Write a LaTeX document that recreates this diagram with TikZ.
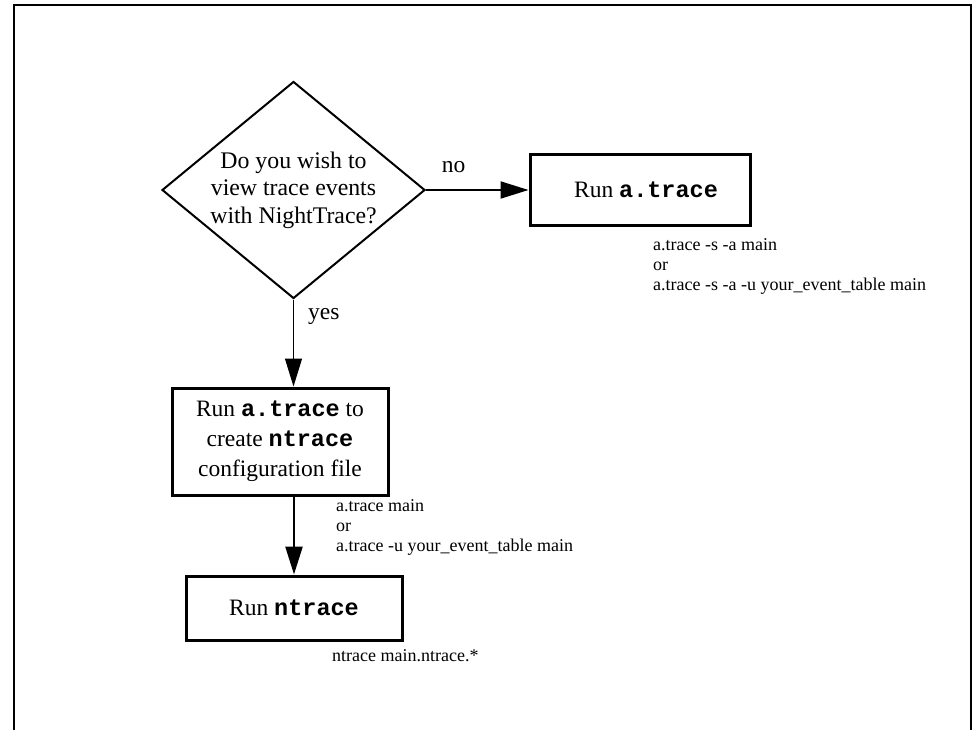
\documentclass[tikz,border=0pt]{standalone}
\usepackage{fontspec}
\setmainfont{Liberation Serif}
\setmonofont{Liberation Mono}
\usetikzlibrary{shapes.geometric,arrows.meta}

\newcommand{\cmdname}[1]{\texttt{\bfseries #1}}

\begin{document}
\begin{tikzpicture}[x=1pt,y=-1pt,
  decision/.style={diamond, draw, line width=2pt, minimum width=263pt, minimum height=217pt,
    aspect=1.25, inner sep=0pt, align=center, font=\fontsize{23.8}{27.5}\selectfont},
  runbox/.style={rectangle, draw, line width=3pt, minimum width=216pt, align=center,
    font=\fontsize{23.5}{30}\selectfont},
  flow/.style={-{Triangle[length=28pt,width=17pt]}, line width=2pt},
  usage/.style={anchor=north west, inner sep=0pt, align=left, font=\fontsize{18}{20}\selectfont},
  answer/.style={inner sep=0pt, font=\fontsize{23.5}{27}\selectfont}]

\useasboundingbox (0,0) rectangle (973,730);

% Draw the frame
\draw[line width=2pt] (14,730) -- (14,5) -- (971,5) -- (971,730);

% The question
\node[decision] (wish) at (293.5,190) {Do you wish to\\view trace events\\with NightTrace?};

% The three steps
\node[runbox, minimum width=220pt, minimum height=71pt] (runtrace) at (640,190) {\hspace*{12pt}Run \cmdname{a.trace}};
\node[runbox, minimum height=107pt] (runconfig) at (280,441.5) {Run \cmdname{a.trace} to\\create \cmdname{ntrace}\\configuration file};
\node[runbox, minimum height=64pt] (runntrace) at (294,608) {Run \cmdname{ntrace}};

% Connect them
\draw[flow] (wish.east) -- (runtrace.west) node[answer, pos=0.27, above=16pt] (no) {no};
\draw[flow, line width=1.2pt] (wish.south) -- (wish.south |- runconfig.north) node[answer, pos=0.2, right=14pt] (yes) {yes};
\draw[flow, line width=2.5pt] (runntrace.north |- runconfig.south) -- (runntrace.north);

% Command lines under the steps
\node[usage] (usetrace) at (653,238) {a.trace -s -a main\\or\\a.trace -s -a -u your\_event\_table main};
\node[usage] (useconfig) at (336,499) {a.trace main\\or\\a.trace -u your\_event\_table main};
\node[usage] (usentrace) at (332,649) {ntrace main.ntrace.*};

\end{tikzpicture}
\end{document}
